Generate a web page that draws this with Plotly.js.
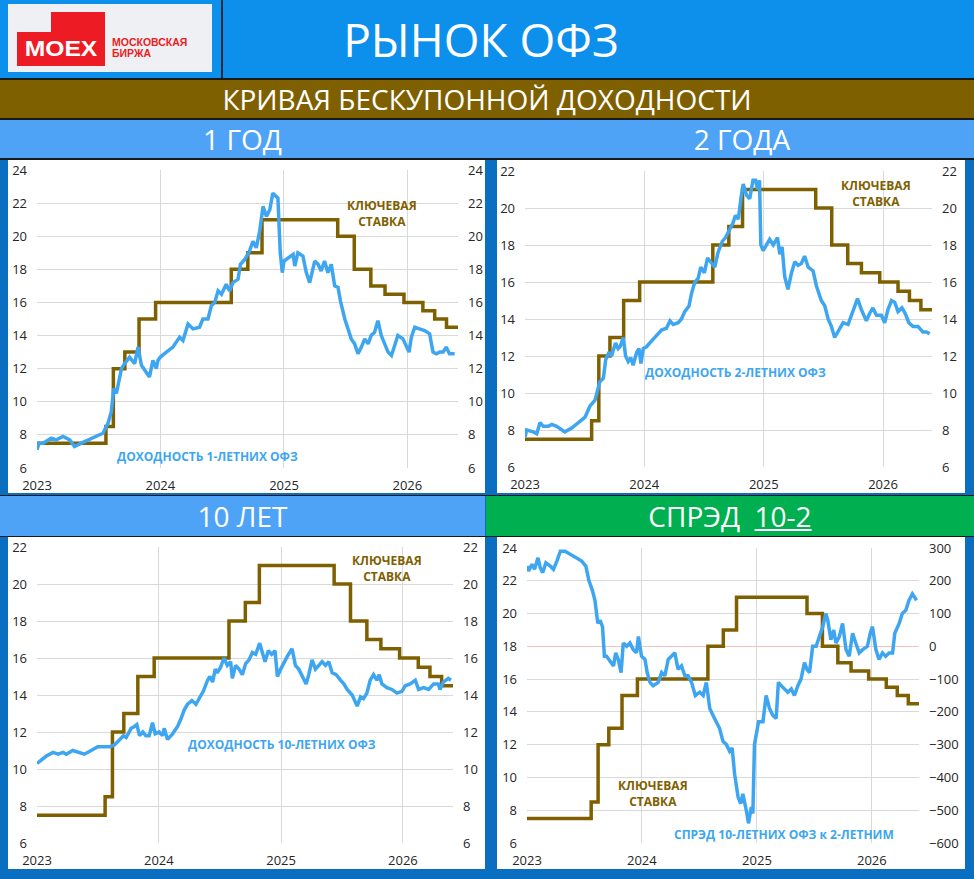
<!DOCTYPE html>
<html>
<head>
<meta charset="utf-8">
<script src="https://cdn.plot.ly/plotly-3.0.1.min.js"></script>
<style>
  body { margin:0; width:974px; height:879px; background:#0a6fc0; position:relative; overflow:hidden;
         font-family:"Open Sans", "Noto Sans", sans-serif; }
  .box { position:absolute; }
  .band { position:absolute; display:flex; align-items:center; justify-content:center; color:#fff; font-size:28px; }
  .panel { position:absolute; background:#fff; overflow:hidden; }
</style>
</head>
<body>
<!-- header -->
<div class="box" style="left:0;top:0;width:974px;height:78px;background:#0d8fec"></div>
<div class="box" style="left:8px;top:4px;width:204px;height:68px;background:#eef0f4"></div>
<div class="box" style="left:51px;top:12px;width:54px;height:21px;background:#ed1c24"></div>
<div class="box" style="left:17px;top:32px;width:88px;height:34px;background:#ed1c24"></div>
<div class="band" style="left:17px;top:32px;width:88px;height:34px;font:bold 22px 'Liberation Sans',Arial;transform:scaleX(1.12)">MOEX</div>
<div class="box" style="left:112px;top:37px;color:#ed1c24;font:bold 10.5px/11px 'Liberation Sans',Arial">МОСКОВСКАЯ<br>БИРЖА</div>
<div class="box" style="left:221px;top:0;width:2px;height:78px;background:#1c2b3a"></div>
<div class="band" style="left:0;top:0;width:962px;height:78px;font-size:46px">РЫНОК ОФЗ</div>

<div class="box" style="left:0;top:78px;width:974px;height:2px;background:#1a1a1a"></div>
<div class="band" style="left:0;top:80px;width:974px;height:38px;background:#7f6000">КРИВАЯ БЕСКУПОННОЙ ДОХОДНОСТИ</div>
<div class="box" style="left:0;top:118px;width:974px;height:2px;background:#1a1a1a"></div>
<div class="box" style="left:0;top:120px;width:974px;height:38px;background:#4fa3f6"></div>
<div class="band" style="left:0;top:120px;width:485px;height:38px">1 ГОД</div>
<div class="band" style="left:497px;top:120px;width:490px;height:38px">2 ГОДА</div>
<div class="box" style="left:0;top:158px;width:974px;height:2px;background:#1a1a1a"></div>

<div class="panel" id="c1" style="left:8px;top:160px;width:477px;height:333px"></div>
<div class="panel" id="c2" style="left:497px;top:160px;width:468px;height:333px"></div>

<div class="box" style="left:0;top:495px;width:974px;height:1px;background:#1a1a1a"></div>
<div class="band" style="left:0;top:496px;width:485px;height:40px;background:#4fa3f6">10 ЛЕТ</div>
<div class="band" style="left:486px;top:496px;width:488px;height:40px;background:#00b050">СПРЭД&nbsp;&nbsp;<u>10-2</u></div>
<div class="box" style="left:0;top:536px;width:974px;height:1px;background:#1a1a1a"></div>

<div class="panel" id="c3" style="left:8px;top:537px;width:477px;height:332px"></div>
<div class="panel" id="c4" style="left:497px;top:537px;width:468px;height:332px"></div>

<script>
// ключевая ставка ЦБ
var keyDates = ['2023-01-01','2023-07-24','2023-08-15','2023-09-18','2023-10-30','2023-12-18',
  '2024-07-29','2024-09-16','2024-10-28','2025-06-09','2025-07-28','2025-09-15','2025-10-27',
  '2025-12-22','2026-02-16','2026-03-23','2026-04-27','2026-05-31'];
var keyRate = [7.5, 8.5, 12, 13, 15, 16, 18, 19, 21, 20, 18, 17, 16.5, 16, 15.5, 15, 14.5, 14.5];

// доходность 1-летних ОФЗ
var ofz1Dates = ['2023-01-01','2023-01-07','2023-01-19','2023-02-12','2023-02-27','2023-03-19','2023-04-08',
  '2023-04-22','2023-05-12','2023-06-01','2023-06-26','2023-07-15','2023-07-30','2023-08-09','2023-08-16',
  '2023-08-24','2023-09-03','2023-09-08','2023-09-17','2023-10-02','2023-10-17','2023-10-27','2023-11-06',
  '2023-11-21','2023-11-30','2023-12-10','2023-12-20','2023-12-25','2024-01-01','2024-01-19','2024-02-07',
  '2024-02-27','2024-03-08','2024-03-23','2024-04-07','2024-04-26','2024-05-06','2024-05-21','2024-05-31',
  '2024-06-10','2024-06-20','2024-06-30','2024-07-14','2024-07-24','2024-08-03','2024-08-18','2024-08-25',
  '2024-09-07','2024-09-21','2024-10-01','2024-10-11','2024-10-21','2024-10-31','2024-11-10','2024-11-20',
  '2024-11-29','2024-12-07','2024-12-14','2024-12-21','2024-12-27','2025-01-01','2025-01-13','2025-01-28',
  '2025-02-02','2025-02-11','2025-02-26','2025-03-08','2025-03-18','2025-04-02','2025-04-12','2025-04-21',
  '2025-05-01','2025-05-11','2025-05-21','2025-05-31','2025-06-10','2025-06-17','2025-06-30','2025-07-09',
  '2025-07-19','2025-07-29','2025-08-08','2025-08-18','2025-08-28','2025-09-07','2025-09-16','2025-09-26',
  '2025-10-06','2025-10-16','2025-10-26','2025-11-05','2025-11-15','2025-11-25','2025-12-04','2025-12-19',
  '2025-12-29','2026-01-06','2026-01-13','2026-01-23','2026-02-06','2026-02-21','2026-03-08','2026-03-18',
  '2026-03-28','2026-04-07','2026-04-17','2026-04-26','2026-05-06','2026-05-21'];
var ofz1 = [7.1,7.5,7.5,7.8,7.7,7.9,7.7,7.3,7.5,7.7,7.9,8.1,8.7,9.4,10.8,10.5,11.5,12.0,12.3,12.7,12.3,13.3,12.2,
  11.8,11.5,12.5,12.0,12.5,12.7,13.0,13.3,13.9,13.7,14.7,14.4,14.5,15.0,15.0,15.8,16.0,16.7,16.5,17.1,16.7,17.2,
  17.4,18.3,18.6,19.1,19.7,19.3,20.3,21.8,21.2,21.6,22.6,22.4,22.3,19.0,17.8,18.5,18.7,18.9,18.2,19.0,18.8,17.8,
  17.2,18.5,18.3,17.9,18.5,17.8,18.3,17.0,16.9,16.1,15.0,14.5,13.8,13.5,12.9,13.3,13.8,13.5,14.0,14.2,14.9,14.0,
  13.5,13.0,12.8,13.5,14.0,13.8,13.3,13.0,13.9,14.5,14.4,14.3,14.1,13.0,12.9,13.0,13.0,13.3,12.9,12.9];

// доходность 2-летних ОФЗ
var ofz2Dates = ['2023-01-01','2023-01-06','2023-01-26','2023-02-06','2023-02-16','2023-02-26','2023-03-13',
  '2023-03-24','2023-04-08','2023-04-23','2023-05-03','2023-05-24','2023-06-13','2023-07-04','2023-07-19',
  '2023-08-03','2023-08-18','2023-08-29','2023-09-05','2023-09-15','2023-09-23','2023-10-05','2023-10-13',
  '2023-10-19','2023-10-29','2023-11-05','2023-11-13','2023-11-21','2023-11-28','2023-12-09','2023-12-16',
  '2023-12-22','2023-12-29','2024-01-08','2024-01-23','2024-02-08','2024-02-23','2024-03-09','2024-03-20',
  '2024-03-30','2024-04-14','2024-04-24','2024-05-04','2024-05-17','2024-05-25','2024-06-04','2024-06-14',
  '2024-06-22','2024-07-03','2024-07-13','2024-07-25','2024-08-04','2024-08-14','2024-08-27','2024-09-06',
  '2024-09-19','2024-09-29','2024-10-06','2024-10-15','2024-10-23','2024-10-30','2024-11-09','2024-11-19',
  '2024-11-29','2024-12-07','2024-12-13','2024-12-19','2024-12-23','2024-12-30','2025-01-09','2025-01-19',
  '2025-01-30','2025-02-12','2025-02-19','2025-02-26','2025-03-06','2025-03-16','2025-03-27','2025-04-06',
  '2025-04-16','2025-04-26','2025-05-06','2025-05-17','2025-06-01','2025-06-11','2025-06-26','2025-07-07',
  '2025-07-17','2025-07-27','2025-08-06','2025-08-16','2025-09-01','2025-09-16','2025-09-26','2025-10-06',
  '2025-10-15','2025-10-27','2025-11-11','2025-11-21','2025-12-01','2025-12-12','2025-12-27','2026-01-06',
  '2026-01-16','2026-01-27','2026-02-06','2026-02-16','2026-02-28','2026-03-10','2026-03-21','2026-04-03',
  '2026-04-18','2026-05-03','2026-05-14','2026-05-24'];
var ofz2 = [7.6,8.0,7.9,7.8,8.4,8.2,8.2,8.3,8.2,8.0,7.9,8.1,8.4,8.7,9.3,9.6,10.6,10.8,11.8,12.2,12.0,12.7,12.4,
  12.5,13.0,12.0,11.7,11.9,11.5,12.2,12.4,11.6,12.4,12.5,12.8,13.1,13.4,13.5,13.9,13.7,13.8,14.0,14.4,14.7,15.4,
  16.0,16.2,16.8,16.5,17.3,17.0,16.8,17.6,18.2,18.4,18.8,19.2,19.6,19.4,20.5,21.3,20.7,20.5,21.5,21.5,21.0,21.5,
  18.0,17.7,18.0,18.3,18.0,18.4,17.5,17.9,16.3,15.6,16.5,17.1,16.9,17.0,17.4,16.8,16.6,15.8,15.0,14.7,14.0,13.6,
  13.0,13.3,13.8,13.7,14.2,14.7,15.1,14.5,13.9,14.3,14.6,14.2,14.2,13.8,14.5,15.0,14.9,14.4,14.6,14.3,13.8,13.6,
  13.6,13.3,13.3,13.2];

// доходность 10-летних ОФЗ
var ofz10Dates = ['2023-01-01','2023-01-14','2023-01-29','2023-02-18','2023-03-05','2023-03-20','2023-03-30',
  '2023-04-18','2023-05-03','2023-05-23','2023-06-12','2023-07-02','2023-07-17','2023-08-06','2023-08-21',
  '2023-09-05','2023-09-17','2023-09-25','2023-10-10','2023-10-20','2023-10-27','2023-11-04','2023-11-14',
  '2023-11-23','2023-12-03','2023-12-13','2023-12-21','2024-01-02','2024-01-12','2024-01-17','2024-01-27',
  '2024-02-11','2024-02-26','2024-03-07','2024-03-17','2024-03-27','2024-04-09','2024-04-21','2024-05-01',
  '2024-05-13','2024-05-26','2024-06-02','2024-06-10','2024-06-18','2024-06-24','2024-07-04','2024-07-14',
  '2024-07-24','2024-08-03','2024-08-08','2024-08-18','2024-08-28','2024-09-07','2024-09-17','2024-09-27',
  '2024-10-07','2024-10-17','2024-10-29','2024-11-06','2024-11-14','2024-11-24','2024-12-04','2024-12-14',
  '2024-12-21','2024-12-31','2025-01-10','2025-01-20','2025-02-03','2025-02-13','2025-02-23','2025-03-05',
  '2025-03-17','2025-03-25','2025-04-04','2025-04-14','2025-04-24','2025-05-04','2025-05-14','2025-05-24',
  '2025-06-03','2025-06-15','2025-06-28','2025-07-08','2025-07-18','2025-08-02','2025-08-17','2025-08-27',
  '2025-09-05','2025-09-15','2025-09-25','2025-10-05','2025-10-15','2025-10-22','2025-10-30','2025-11-14',
  '2025-11-29','2025-12-14','2025-12-29','2026-01-08','2026-01-23','2026-02-07','2026-02-17','2026-03-04',
  '2026-03-19','2026-04-03','2026-04-17','2026-04-22','2026-05-02','2026-05-17','2026-05-25'];
var ofz10 = [10.3,10.5,10.7,10.9,10.8,10.9,10.8,11.0,10.9,10.8,11.0,11.2,11.2,11.2,11.3,11.6,11.8,11.7,12.2,12.3,
  12.4,11.8,12.0,11.8,11.8,12.5,11.9,12.0,11.8,12.2,11.6,11.9,12.3,12.7,13.2,13.5,13.7,13.5,13.8,14.2,14.8,15.0,
  14.7,15.4,15.2,15.5,16.0,15.6,15.8,14.9,15.6,15.4,15.1,15.7,15.9,16.3,16.2,16.8,16.3,15.8,16.4,16.2,16.4,15.0,
  15.4,15.8,16.1,16.5,15.6,15.4,15.0,14.6,15.1,15.9,15.4,15.6,15.8,15.6,15.8,15.2,15.1,14.8,14.6,14.3,14.0,13.4,
  13.9,13.8,14.1,14.8,15.1,14.8,15.1,14.6,14.4,14.3,14.1,14.2,14.5,14.6,14.8,14.3,14.4,14.3,14.6,14.6,14.3,14.7,
  14.9,14.8];

// спрэд 10-летних ОФЗ к 2-летним, б.п.
var spreadDates = ['2023-01-01','2023-01-06','2023-01-17','2023-01-25','2023-02-05','2023-02-12','2023-02-20',
  '2023-03-02','2023-03-16','2023-03-26','2023-04-06','2023-04-17','2023-05-02','2023-05-18','2023-06-03',
  '2023-06-24','2023-07-07','2023-07-17','2023-07-28','2023-08-05','2023-08-14','2023-08-21','2023-08-29',
  '2023-09-04','2023-09-11','2023-09-22','2023-10-03','2023-10-10','2023-10-18','2023-10-27','2023-11-03',
  '2023-11-14','2023-11-24','2023-12-05','2023-12-15','2023-12-21','2023-12-31','2024-01-11','2024-01-18',
  '2024-01-27','2024-02-06','2024-02-22','2024-03-04','2024-03-14','2024-03-25','2024-04-04','2024-04-15',
  '2024-04-25','2024-05-06','2024-05-17','2024-05-27','2024-06-07','2024-06-19','2024-07-03','2024-07-14',
  '2024-07-24','2024-08-04','2024-08-14','2024-08-25','2024-09-04','2024-09-15','2024-09-26','2024-10-06',
  '2024-10-14','2024-10-22','2024-11-02','2024-11-10','2024-11-17','2024-11-28','2024-12-05','2024-12-14',
  '2024-12-19','2024-12-24','2024-12-30','2025-01-06','2025-01-20','2025-01-30','2025-02-10','2025-02-20',
  '2025-03-03','2025-03-10','2025-03-19','2025-03-29','2025-04-09','2025-04-20','2025-04-30','2025-05-11',
  '2025-05-21','2025-06-01','2025-06-09','2025-06-17','2025-06-27','2025-07-08','2025-07-18','2025-07-29',
  '2025-08-08','2025-08-14','2025-08-24','2025-09-02','2025-09-09','2025-09-20','2025-09-30','2025-10-11',
  '2025-10-21','2025-11-01','2025-11-11','2025-11-22','2025-12-03','2025-12-18','2025-12-27','2026-01-03',
  '2026-01-14','2026-01-24','2026-02-04','2026-02-14','2026-02-25','2026-03-08','2026-03-15','2026-03-29',
  '2026-04-08','2026-04-19','2026-04-29','2026-05-10','2026-05-17','2026-05-23'];
var spread = [245,230,250,235,270,240,225,255,245,235,260,290,290,280,270,260,245,200,170,140,70,80,60,-30,-30,
  -45,-60,-20,-40,-80,10,0,10,-10,-20,30,-30,-40,-80,-110,-120,-110,-80,-90,-40,-30,-20,-70,-60,-90,-90,-110,
  -150,-140,-150,-110,-190,-210,-230,-250,-290,-300,-320,-310,-390,-460,-480,-450,-500,-540,-490,-510,-300,-270,
  -230,-230,-150,-190,-210,-220,-110,-120,-130,-140,-130,-150,-120,-100,-50,-70,-80,0,0,30,60,100,80,20,50,10,
  30,70,-10,-30,40,10,-20,-10,0,40,60,-10,-40,-20,-30,-20,-20,40,70,100,110,140,160,150,140];

var BROWN = '#7f6000';
var BLUE = '#3ea6f0';
var GRID = '#d9d9d9';
var TICKFONT = {family: 'Open Sans, sans-serif', size: 13, color: '#262626'};
var LABELFONT = {family: 'Open Sans, sans-serif', size: 12};

function xAxis(){
    return {
        type: 'date',
        range: ['2023-01-01', '2026-05-31'],
        tick0: '2023-01-01',
        dtick: 'M12',
        tickformat: '%Y',
        showgrid: true,
        gridcolor: GRID,
        zeroline: false,
        ticks: '',
        ticklabelstandoff: 8,
        tickfont: TICKFONT
    };
}

function yAxis(lo, hi, step, side){
    var ax = {
        range: [lo, hi],
        dtick: step,
        zeroline: false,
        ticks: '',
        tickfont: TICKFONT,
        ticklabelstandoff: 9
    };
    if(side == 'right'){
        ax.overlaying = 'y';
        ax.side = 'right';
        ax.showgrid = false;
    } else {
        ax.showgrid = true;
        ax.gridcolor = GRID;
    }
    return ax;
}

function keyTrace(axis){
    return {
        x: keyDates,
        y: keyRate,
        type: 'scatter',
        mode: 'lines',
        line: {shape: 'hv', color: BROWN, width: 3.5},
        yaxis: axis,
        hoverinfo: 'skip'
    };
}

function lineTrace(x, y, axis){
    return {
        x: x,
        y: y,
        type: 'scatter',
        mode: 'lines',
        line: {color: BLUE, width: 3.5},
        yaxis: axis,
        hoverinfo: 'skip'
    };
}

function note(text, x, y, color){
    return {
        text: '<b>' + text + '</b>',
        x: x, y: y, xref: 'x', yref: 'y',
        showarrow: false,
        font: {family: LABELFONT.family, size: LABELFONT.size, color: color}
    };
}

function makeLayout(id, margin, yLeft, yRight, notes){
    var div = document.getElementById(id);
    return {
        showlegend: false,
        width: div.offsetWidth,
        height: div.offsetHeight,
        margin: margin,
        paper_bgcolor: '#ffffff',
        plot_bgcolor: '#ffffff',
        xaxis: xAxis(),
        yaxis: yLeft,
        yaxis2: yRight,
        annotations: notes
    };
}

var config = {staticPlot: true, displayModeBar: false, displaylogo: false};

// 1 год
var l1 = makeLayout('c1', {l: 29, r: 27, t: 10, b: 25}, yAxis(6, 24, 2, 'left'), yAxis(6, 24, 2, 'right'), [
    note('КЛЮЧЕВАЯ<br>СТАВКА', '2025-10-19', 21.4, BROWN),
    note('ДОХОДНОСТЬ 1-ЛЕТНИХ ОФЗ', '2024-05-21', 6.7, BLUE)
]);
Plotly.newPlot('c1', [keyTrace('y'), lineTrace(ofz1Dates, ofz1, 'y2')], l1, config);

// 2 года
var l2 = makeLayout('c2', {l: 28, r: 33, t: 11, b: 26}, yAxis(6, 22, 2, 'left'), yAxis(6, 22, 2, 'right'), [
    note('КЛЮЧЕВАЯ<br>СТАВКА', '2025-12-10', 20.8, BROWN),
    note('ДОХОДНОСТЬ 2-ЛЕТНИХ ОФЗ', '2024-10-06', 11.1, BLUE)
]);
Plotly.newPlot('c2', [keyTrace('y'), lineTrace(ofz2Dates, ofz2, 'y2')], l2, config);

// 10 лет
var l3 = makeLayout('c3', {l: 29, r: 32, t: 10, b: 26}, yAxis(6, 22, 2, 'left'), yAxis(6, 22, 2, 'right'), [
    note('КЛЮЧЕВАЯ<br>СТАВКА', '2025-11-14', 20.85, BROWN),
    note('ДОХОДНОСТЬ 10-ЛЕТНИХ ОФЗ', '2025-01-05', 11.3, BLUE)
]);
Plotly.newPlot('c3', [keyTrace('y'), lineTrace(ofz10Dates, ofz10, 'y2')], l3, config);

// спрэд 10-2
var y4 = yAxis(-600, 300, 100, 'right');
y4.zeroline = true;
y4.zerolinecolor = '#f4c2c2';
y4.zerolinewidth = 1.5;
var l4 = makeLayout('c4', {l: 30, r: 46, t: 11, b: 26}, yAxis(6, 24, 2, 'left'), y4, [
    note('КЛЮЧЕВАЯ<br>СТАВКА', '2024-02-06', 9.0, BROWN),
    note('СПРЭД 10-ЛЕТНИХ ОФЗ к 2-ЛЕТНИМ', '2025-03-29', 6.5, BLUE)
]);
Plotly.newPlot('c4', [keyTrace('y'), lineTrace(spreadDates, spread, 'y2')], l4, config);
</script>
</body>
</html>
